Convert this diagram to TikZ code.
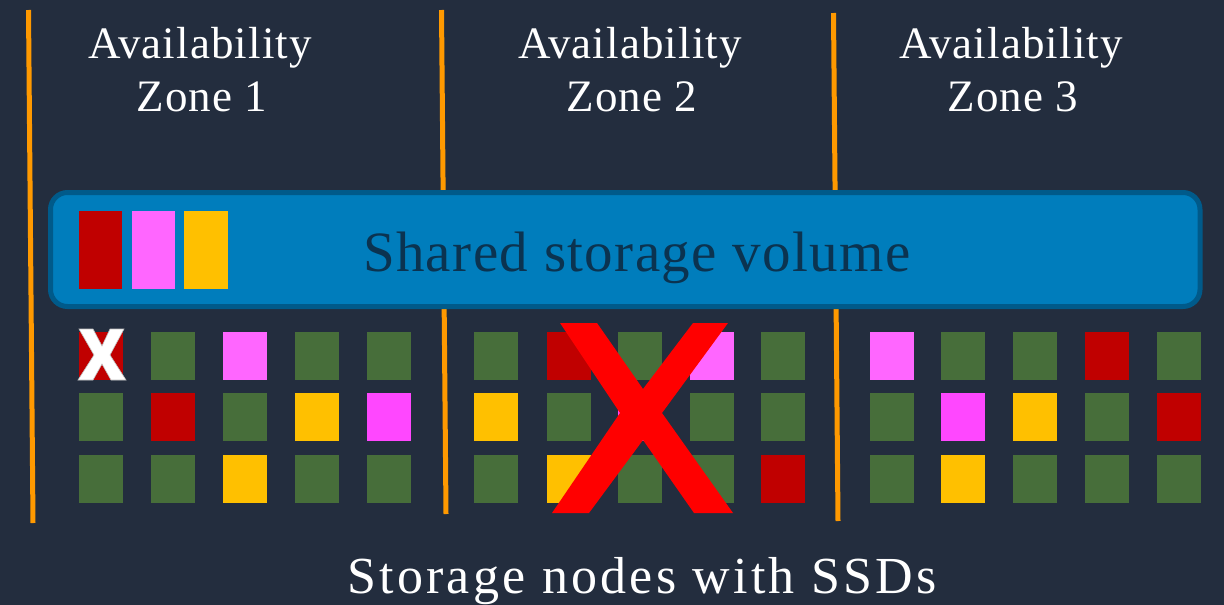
\documentclass[tikz,border=0pt]{standalone}
\usepackage{fontspec}
\setmainfont{Liberation Serif}
\newfontfamily\spaced[LetterSpace=2.5]{Liberation Serif}
\newfontfamily\wide[LetterSpace=6.3]{Liberation Serif}
\definecolor{bg}{HTML}{232D3E}
\definecolor{az}{HTML}{FF9900}
\definecolor{volfill}{HTML}{007DBC}
\definecolor{voledge}{HTML}{005A8A}
\definecolor{voltext}{HTML}{0B3350}
\definecolor{cR}{HTML}{C00000}
\definecolor{cP}{HTML}{FF66FF}
\definecolor{cM}{HTML}{FF47FF}
\definecolor{cY}{HTML}{FFC000}
\definecolor{cG}{HTML}{476E3A}
\definecolor{bigx}{HTML}{FF0000}
\tikzset{
  azline/.style={az, line width=5pt},
  label/.style={text=white, anchor=base, inner sep=0pt, font=\spaced\fontsize{45}{53}\selectfont},
  sq/.style={rectangle, inner sep=0pt, outer sep=0pt, anchor=north west, minimum height=48pt},
  blk/.style={rectangle, inner sep=0pt, outer sep=0pt, anchor=north west, minimum width=43pt, minimum height=78pt},
}
\begin{document}
\begin{tikzpicture}[x=1pt,y=-1pt]
\fill[bg] (0,0) rectangle (1224,605);
\useasboundingbox (0,0) rectangle (1224,605);
% zone borders
\draw[azline] (28.5,10) -- (33,523);
\draw[azline] (441.5,10) -- (446,514);
\draw[azline] (833.5,13) -- (838,521);
% zone labels
\node[label] (a1) at (200,58) {Availability};
\node[label] (z1) at (202,111) {Zone 1};
\node[label] (a2) at (630,58) {Availability};
\node[label] (z2) at (632,111) {Zone 2};
\node[label] (a3) at (1011,58) {Availability};
\node[label] (z3) at (1013,111) {Zone 3};
% shared volume
\draw[voledge, fill=volfill, line width=5pt, rounded corners=17pt] (50.5,192.5) rectangle (1200,306.5);
\node[blk, fill=cR] (v1) at (79,211) {};
\node[blk, fill=cP] (v2) at (132,211) {};
\node[blk, fill=cY, minimum width=44pt] (v3) at (184,211) {};
\node[text=voltext, anchor=base, inner sep=0pt, font=\spaced\fontsize{57}{60}\selectfont] (vol) at (637,271) {Shared storage volume};
% storage nodes: zone 1
\foreach \c/\x/\y/\n in {cR/79/332/a11, cG/151/332/a12, cP/223/332/a13, cG/295/332/a14, cG/367/332/a15,
                         cG/79/393/a21, cR/151/393/a22, cG/223/393/a23, cY/295/393/a24, cM/367/393/a25,
                         cG/79/455/a31, cG/151/455/a32, cY/223/455/a33, cG/295/455/a34, cG/367/455/a35}
  \node[sq, fill=\c, minimum width=43.5pt] (\n) at (\x,\y) {};
% zone 2
\foreach \c/\x/\y/\n in {cG/474/332/b11, cR/547/332/b12, cG/618/332/b13, cP/690/332/b14, cG/761/332/b15,
                         cY/474/393/b21, cG/547/393/b22, cM/618/393/b23, cG/690/393/b24, cG/761/393/b25,
                         cG/474/455/b31, cY/547/455/b32, cG/618/455/b33, cG/690/455/b34, cR/761/455/b35}
  \node[sq, fill=\c, minimum width=44pt] (\n) at (\x,\y) {};
% zone 3
\foreach \c/\x/\y/\n in {cP/870/332/c11, cG/941/332/c12, cG/1013/332/c13, cR/1085/332/c14, cG/1157/332/c15,
                         cG/870/393/c21, cM/941/393/c22, cY/1013/393/c23, cG/1085/393/c24, cR/1157/393/c25,
                         cG/870/455/c31, cY/941/455/c32, cG/1013/455/c33, cG/1085/455/c34, cG/1157/455/c35}
  \node[sq, fill=\c, minimum width=44pt] (\n) at (\x,\y) {};
% small failed-node cross
\draw[white, fill=white, line width=0.6pt, draw=gray!50, line join=miter]
  (79,329) -- (93,329) -- (102,346) -- (110,329) -- (124,329) -- (110,355) -- (126,380)
  -- (111,380) -- (102,364) -- (93,380) -- (78,380) -- (94,355) -- cycle;
% big failed-zone cross
\fill[bigx] (560,323) -- (597,323) -- (643,389) -- (693,323) -- (728,323) -- (662,413)
  -- (733,513) -- (694,513) -- (643,440) -- (589,513) -- (552,513) -- (620,413) -- cycle;
% caption
\node[text=white, anchor=base, inner sep=0pt, font=\wide\fontsize{52}{56}\selectfont] (cap) at (642,593) {Storage nodes with SSDs};
\end{tikzpicture}
\end{document}
